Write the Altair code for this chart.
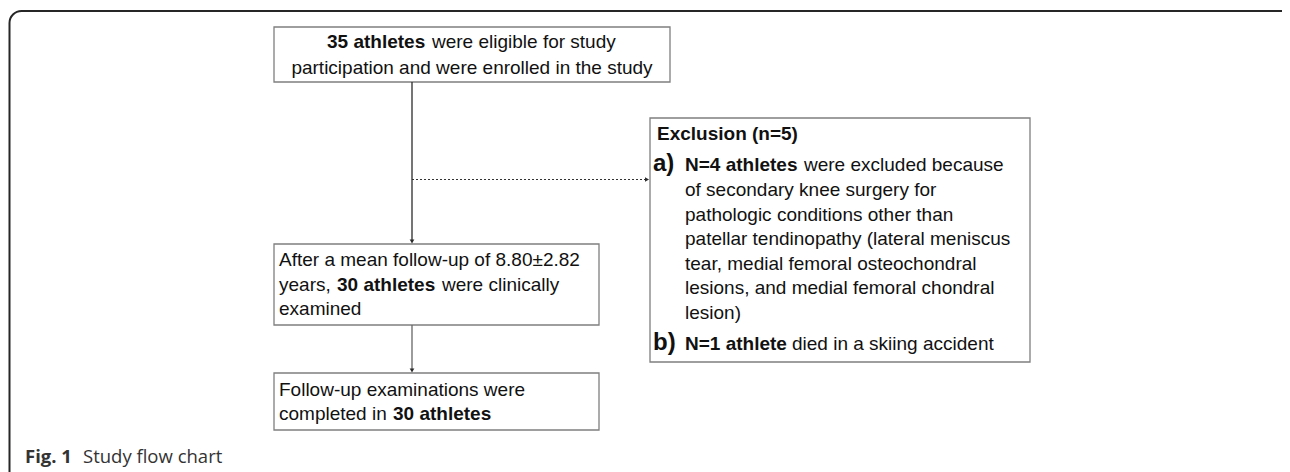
import altair as alt
import pandas as pd

# ---------------- content ----------------
top_box_lines = [
    [("35 athletes", "bold"), ("were eligible for study", "normal")],
    [("participation and were enrolled in the study", "normal")],
]
followup_box_lines = [
    [("After a mean follow-up of 8.80±2.82", "normal")],
    [("years,", "normal"), ("30 athletes", "bold"), ("were clinically", "normal")],
    [("examined", "normal")],
]
completed_box_lines = [
    [("Follow-up examinations were", "normal")],
    [("completed in", "normal"), ("30 athletes", "bold")],
]
exclusion_title = "Exclusion (n=5)"
exclusion_markers = ["a)", "b)"]
exclusion_a_lines = [
    [("N=4 athletes", "bold"), ("were excluded because", "normal")],
    [("of secondary knee surgery for", "normal")],
    [("pathologic conditions other than", "normal")],
    [("patellar tendinopathy (lateral meniscus", "normal")],
    [("tear, medial femoral osteochondral", "normal")],
    [("lesions, and medial femoral chondral", "normal")],
    [("lesion)", "normal")],
]
exclusion_b_lines = [
    [("N=1 athlete", "bold"), ("died in a skiing accident", "normal")],
]
caption_parts = [("Fig. 1", "bold"), ("Study flow chart", "normal")]

# ---------------- layout (pixel positions in page coords) ----------------
BOX = "Liberation Sans"
CAP = "Open Sans"
rows = []


def add(text, weight, x, y, align="left", size=19, font=BOX, color="#111111"):
    rows.append(dict(text=text, weight=weight, x=x, y=y, align=align,
                     size=size, font=font, color=color))


# top box
l1 = top_box_lines[0]
add(l1[0][0], l1[0][1], 327, 48)
add(l1[1][0], l1[1][1], 432, 48)
add(top_box_lines[1][0][0], "normal", 472, 74, align="center")

# follow-up box
add(followup_box_lines[0][0][0], "normal", 279, 266)
seg_x = [279, 337, 442]
for (t, w), sx in zip(followup_box_lines[1], seg_x):
    add(t, w, sx, 290.5)
add(followup_box_lines[2][0][0], "normal", 279, 315)

# completed box
add(completed_box_lines[0][0][0], "normal", 279, 395.5)
for (t, w), sx in zip(completed_box_lines[1], [279, 393]):
    add(t, w, sx, 420)

# exclusion box
add(exclusion_title, "bold", 657, 140)
add(exclusion_markers[0], "bold", 653, 171, size=24)
add(exclusion_markers[1], "bold", 653, 350, size=24)
ys = [171, 196, 220.5, 245, 269.5, 294, 318.5]
for line, yy in zip(exclusion_a_lines, ys):
    if len(line) == 2:
        add(line[0][0], line[0][1], 685, yy)
        add(line[1][0], line[1][1], 804, yy)
    else:
        add(line[0][0], line[0][1], 685, yy)
bl = exclusion_b_lines[0]
add(bl[0][0], bl[0][1], 685, 350)
add(bl[1][0], bl[1][1], 792, 350)

# caption
add(caption_parts[0][0], "bold", 25, 463, size=18.5, font=CAP, color="#333333")
add(caption_parts[1][0], "normal", 83, 463, size=18.5, font=CAP, color="#333333")

texts = pd.DataFrame(rows)

boxes = pd.DataFrame(dict(
    x=[274, 274, 274, 650], x2=[670, 599, 599, 1030],
    y=[27, 244, 373, 118], y2=[82, 325, 430, 362]))

solid = pd.DataFrame(dict(x=[412, 412], x2=[412, 412], y=[82, 325], y2=[241, 370],
                          c=["#2b2b2b", "#666666"]))
dashed = pd.DataFrame(dict(x=[412], x2=[646], y=[179.5], y2=[179.5]))
heads = pd.DataFrame(dict(x=[412, 412, 647], y=[241.5, 370.5, 179.5],
                          shape=["triangle-down", "triangle-down", "triangle-right"]))
frame = pd.DataFrame(dict(x=[9.5], x2=[1298], y=[11], y2=[700]))

W, H = 1274, 464
xs = alt.Scale(domain=[8, 8 + W], nice=False, zero=False)
ysc = alt.Scale(domain=[8, 8 + H], nice=False, zero=False, reverse=True)
X = lambda f: alt.X(f, type="quantitative", scale=xs, axis=None)
Y = lambda f: alt.Y(f, type="quantitative", scale=ysc, axis=None)

layers = []
layers.append(alt.Chart(frame).mark_rect(fill=None, stroke="#262626", strokeWidth=2,
                                          cornerRadius=12, clip=True).encode(
    x=X("x"), x2="x2", y=Y("y"), y2="y2"))
layers.append(alt.Chart(boxes).mark_rect(fill="white", stroke="#7f7f7f", strokeWidth=1.3).encode(
    x=X("x"), x2="x2", y=Y("y"), y2="y2"))
layers.append(alt.Chart(solid).mark_rule(strokeWidth=1.3).encode(
    x=X("x"), x2="x2", y=Y("y"), y2="y2", color=alt.Color("c:N", scale=None)))
layers.append(alt.Chart(dashed).mark_rule(strokeWidth=1.2, strokeDash=[2, 2], color="#333333").encode(
    x=X("x"), x2="x2", y=Y("y"), y2="y2"))
layers.append(alt.Chart(heads).mark_point(filled=True, size=22, color="#2b2b2b", opacity=1).encode(
    x=X("x"), y=Y("y"), shape=alt.Shape("shape:N", scale=None)))

for (w, sz, f, al, col), g in texts.groupby(["weight", "size", "font", "align", "color"]):
    layers.append(alt.Chart(g).mark_text(fontWeight=w, fontSize=sz, font=f, align=al,
                                         baseline="alphabetic", color=col).encode(
        x=X("x"), y=Y("y"), text="text:N"))

chart = alt.layer(*layers).properties(width=W, height=H, padding=0,
                                      autosize=alt.AutoSizeParams(type="none")
                                      ).configure_view(stroke=None)

chart.save("out.html", embed_options={"renderer": "svg", "actions": False})
